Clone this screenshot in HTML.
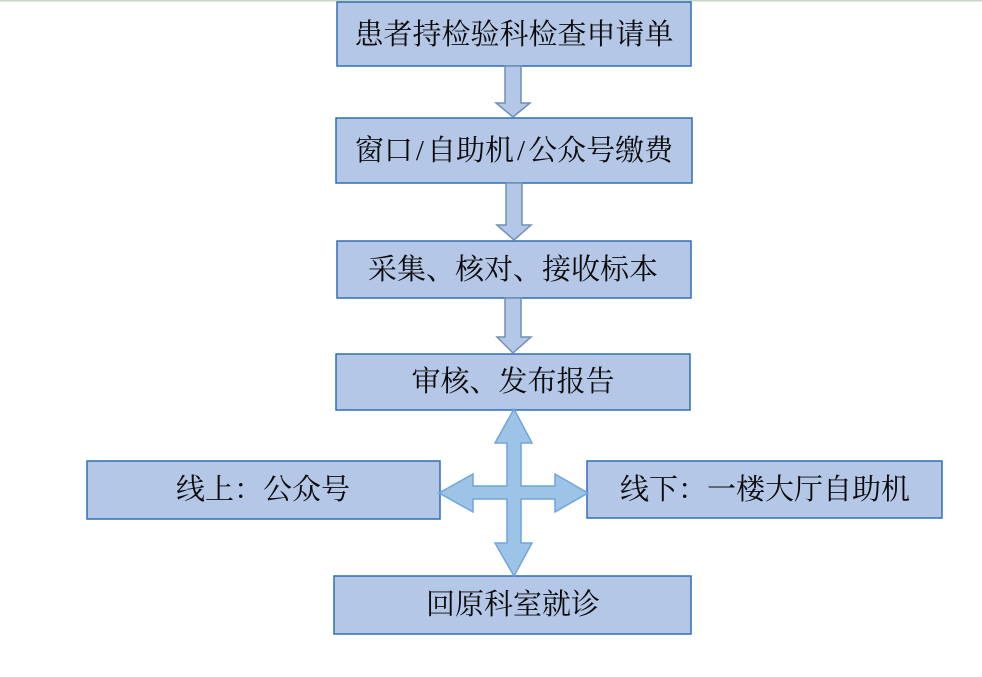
<!DOCTYPE html>
<html>
<head>
<meta charset="utf-8">
<style>
  html, body { margin: 0; padding: 0; background: #ffffff; }
  body { width: 982px; height: 677px; overflow: hidden; }
  svg { display: block; }
  text { font-family: "Liberation Serif", "Noto Serif CJK SC", "Noto Serif CJK JP", "Noto Serif CJK TC", "Noto Serif CJK", "WenQuanYi Zen Hei", serif; font-size: 29px; fill: #0a0a0a; }
</style>
</head>
<body>
<svg width="982" height="677" viewBox="0 0 982 677" xmlns="http://www.w3.org/2000/svg">
  <!-- top thin line -->
  <rect x="0" y="0" width="982" height="1.5" fill="#c9d5c3"/>

  <!-- boxes -->
  <g fill="#b4c7e7" stroke="#2e6fb4" stroke-width="1.5">
    <rect x="337" y="2" width="354" height="64"/>
    <rect x="336" y="118" width="356" height="65"/>
    <rect x="337" y="241" width="354" height="57"/>
    <rect x="336" y="354" width="354" height="56"/>
    <rect x="87" y="461" width="353" height="58"/>
    <rect x="587" y="461" width="355" height="57"/>
    <rect x="334" y="576" width="357" height="58"/>
  </g>

  <!-- down arrows -->
  <g fill="#b4c7e7" stroke="#6f8fb8" stroke-width="1.5" stroke-linejoin="miter">
    <polygon points="505,66 521,66 521,103 530,103 513,117 496,103 505,103"/>
    <polygon points="506,183 522,183 522,225 531,225 514,240 497,225 506,225"/>
    <polygon points="505,298 521,298 521,337 531,337 513,353 497,337 505,337"/>
  </g>

  <!-- four-way arrow -->
  <polygon fill="#9dc3e6" stroke="#6ea6dc" stroke-width="1.5" stroke-linejoin="miter"
    points="514,409 532,443 521,443 521,486 555,486 555,474 588,493 555,512 555,499 521,499 521,543 532,543 514,576 495,543 507,543 507,499 473,499 473,512 439,493 473,474 473,486 507,486 507,443 495,443"/>

  <!-- labels -->
  <text x="514" y="35" text-anchor="middle" dominant-baseline="central">患者持检验科检查申请单</text>
  <text x="514" y="151" text-anchor="middle" dominant-baseline="central">窗口<tspan dx="3">/</tspan><tspan dx="3">自助机</tspan><tspan dx="3">/</tspan><tspan dx="3">公众号缴费</tspan></text>
  <text x="513" y="270" text-anchor="middle" dominant-baseline="central">采集、核对、接收标本</text>
  <text x="513" y="382" text-anchor="middle" dominant-baseline="central">审核、发布报告</text>
  <text x="263" y="490" text-anchor="middle" dominant-baseline="central">线上：公众号</text>
  <text x="765" y="490" text-anchor="middle" dominant-baseline="central">线下：一楼大厅自助机</text>
  <text x="513" y="605" text-anchor="middle" dominant-baseline="central">回原科室就诊</text>
</svg>
</body>
</html>
